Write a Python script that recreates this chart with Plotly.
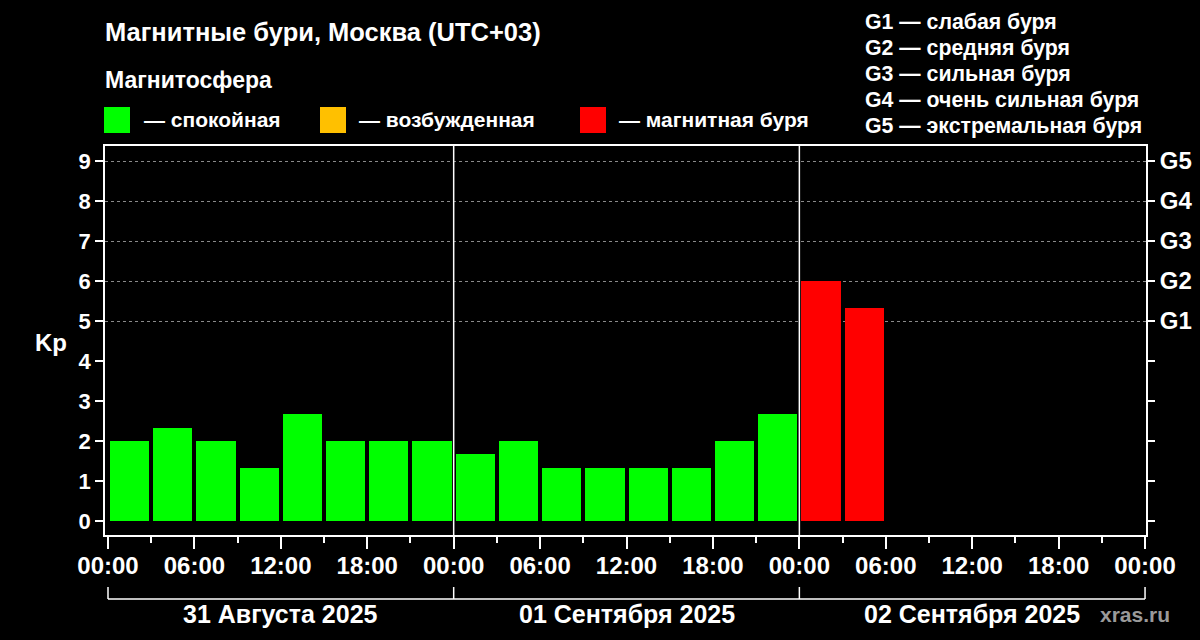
import plotly.graph_objects as go

# ---------------- data ----------------
slot_start = [
    "2025-08-31 00:00", "2025-08-31 03:00", "2025-08-31 06:00", "2025-08-31 09:00",
    "2025-08-31 12:00", "2025-08-31 15:00", "2025-08-31 18:00", "2025-08-31 21:00",
    "2025-09-01 00:00", "2025-09-01 03:00", "2025-09-01 06:00", "2025-09-01 09:00",
    "2025-09-01 12:00", "2025-09-01 15:00", "2025-09-01 18:00", "2025-09-01 21:00",
    "2025-09-02 00:00", "2025-09-02 03:00",
]
kp_values = [2.0, 2.33, 2.0, 1.33, 2.67, 2.0, 2.0, 2.0,
             1.67, 2.0, 1.33, 1.33, 1.33, 1.33, 2.0, 2.67,
             6.0, 5.33]

day_starts = ["2025-08-31 00:00", "2025-09-01 00:00", "2025-09-02 00:00", "2025-09-03 00:00"]
day_mids = ["2025-08-31 12:00", "2025-09-01 12:00", "2025-09-02 12:00"]
day_labels = ["31 Августа 2025", "01 Сентября 2025", "02 Сентября 2025"]

kp_ticks = [0, 1, 2, 3, 4, 5, 6, 7, 8, 9]
g_ticktext = ["", "", "", "", "", "G1", "G2", "G3", "G4", "G5"]
g_grid = [5, 6, 7, 8, 9]

legend_names = ["— спокойная", "— возбужденная", "— магнитная буря"]
legend_colors = ["#00ff00", "#ffc000", "#ff0000"]
g_scale = ["G1 — слабая буря", "G2 — средняя буря", "G3 — сильная буря",
           "G4 — очень сильная буря", "G5 — экстремальная буря"]

title_text = "Магнитные бури, Москва (UTC+03)"
subtitle_text = "Магнитосфера"

# ---------------- helpers ----------------
L, R, T, B = 105, 1146, 146, 535
W, H = R - L, B - T
def px(x):
    return (x - L) / W
def py(y):
    return (B - y) / H

def bar_color(v):
    if v >= 5:
        return legend_colors[2]
    if v >= 4:
        return legend_colors[1]
    return legend_colors[0]

FONT = "Liberation Sans, Arial, sans-serif"
WHITE = "#ffffff"

def f(size, color=WHITE):
    return dict(family=FONT, size=size, color=color, weight="bold")

fig = go.Figure()
fig.add_trace(go.Bar(
    x=slot_start, y=kp_values,
    xperiod=3 * 3600 * 1000, xperiodalignment="middle",
    width=2.72 * 3600 * 1000,
    marker=dict(color=[bar_color(v) for v in kp_values], line=dict(width=0)),
    showlegend=False, hoverinfo="x+y",
))
# helper traces for overlay axes
fig.add_trace(go.Scatter(x=[day_starts[0]], y=[None], yaxis="y2", showlegend=False, hoverinfo="skip"))
fig.add_trace(go.Scatter(x=[day_starts[0]], y=[None], yaxis="y3", showlegend=False, hoverinfo="skip"))

yr = [-0.35, 9.375]

fig.update_layout(
    width=1200, height=640,
    paper_bgcolor="#000000", plot_bgcolor="#000000",
    margin=dict(l=L, r=1200 - R, t=T, b=640 - B, autoexpand=False),
    bargap=0,
    xaxis=dict(
        type="date", automargin=False,
        range=["2025-08-30 23:47:30", "2025-09-03 00:04"],
        tick0="2025-08-31 00:00", dtick=6 * 3600 * 1000,
        tickformat="%H:%M",
        ticks="outside", ticklen=12, tickwidth=1.5, tickcolor=WHITE,
        minor=dict(ticks="outside", ticklen=6, tickwidth=1.5, tickcolor=WHITE,
                   dtick=3 * 3600 * 1000, tick0="2025-08-31 00:00", showgrid=False),
        tickfont=f(24), ticklabelstandoff=-4,
        showgrid=False, zeroline=False,
        showline=True, linecolor=WHITE, linewidth=1.5, mirror=True,
    ),
    yaxis=dict(
        range=yr, tickvals=kp_ticks, automargin=False,
        ticks="outside", ticklen=8, tickwidth=1.5, tickcolor=WHITE,
        tickfont=f(22),
        showgrid=False, zeroline=False,
        showline=True, linecolor=WHITE, linewidth=1.5, mirror=True,
    ),
    yaxis2=dict(
        overlaying="y", side="right", range=yr, automargin=False,
        tickvals=kp_ticks, ticktext=g_ticktext,
        ticks="outside", ticklen=8, tickwidth=1.5, tickcolor=WHITE,
        tickfont=f(24),
        showgrid=False, zeroline=False, showline=False,
    ),
    yaxis3=dict(
        overlaying="y", side="left", range=yr, automargin=False,
        tickvals=g_grid, showticklabels=False, ticks="",
        showgrid=True, gridcolor="#8a8a8a", gridwidth=1, griddash="3px,3px",
        zeroline=False, showline=False,
    ),
)

# day separators
for d in day_starts[1:3]:
    fig.add_shape(type="line", xref="x", yref="paper", x0=d, x1=d, y0=0, y1=1,
                  line=dict(color=WHITE, width=1.5))

# date bracket below axis
fig.add_shape(type="line", xref="x", yref="paper", x0=day_starts[0], x1=day_starts[-1],
              y0=py(599), y1=py(599), line=dict(color=WHITE, width=1.5))
for d in day_starts:
    fig.add_shape(type="line", xref="x", yref="paper", x0=d, x1=d,
                  y0=py(599), y1=py(587), line=dict(color=WHITE, width=1.5))
for m, lab in zip(day_mids, day_labels):
    fig.add_annotation(x=m, xref="x", y=py(614), yref="paper", text=lab, showarrow=False,
                       xanchor="center", yanchor="middle", font=f(25))

# Kp label
fig.add_annotation(x=px(51), xref="paper", y=py(342), yref="paper", text="Kp", showarrow=False,
                   xanchor="center", yanchor="middle", font=f(24))

# titles
fig.add_annotation(x=px(103), xref="paper", y=py(32), yref="paper", text=title_text, showarrow=False,
                   xanchor="left", yanchor="middle", font=f(25.5))
fig.add_annotation(x=px(103), xref="paper", y=py(80), yref="paper", text=subtitle_text, showarrow=False,
                   xanchor="left", yanchor="middle", font=f(23))

# legend
sq_x = [104, 320, 580]
txt_x = [142, 357, 617]
for sx, tx, name, col in zip(sq_x, txt_x, legend_names, legend_colors):
    fig.add_shape(type="rect", xref="paper", yref="paper",
                  x0=px(sx), x1=px(sx + 26), y0=py(107), y1=py(133),
                  fillcolor=col, line=dict(width=0))
    fig.add_annotation(x=px(tx), xref="paper", y=py(119), yref="paper", text=name, showarrow=False,
                       xanchor="left", yanchor="middle", font=f(21))

# G scale list
for i, g in enumerate(g_scale):
    fig.add_annotation(x=px(863), xref="paper", y=py(22 + 26 * i), yref="paper", text=g,
                       showarrow=False, xanchor="left", yanchor="middle", font=f(21.3))

# watermark
fig.add_annotation(x=px(1172), xref="paper", y=py(614), yref="paper", text="xras.ru", showarrow=False,
                   xanchor="right", yanchor="middle", font=f(21, "#9a9a9a"))

fig.write_html(
    "out.html",
    config={"displayModeBar": False},
    post_script="document.body.style.margin='0';document.body.style.background='#000';",
)
